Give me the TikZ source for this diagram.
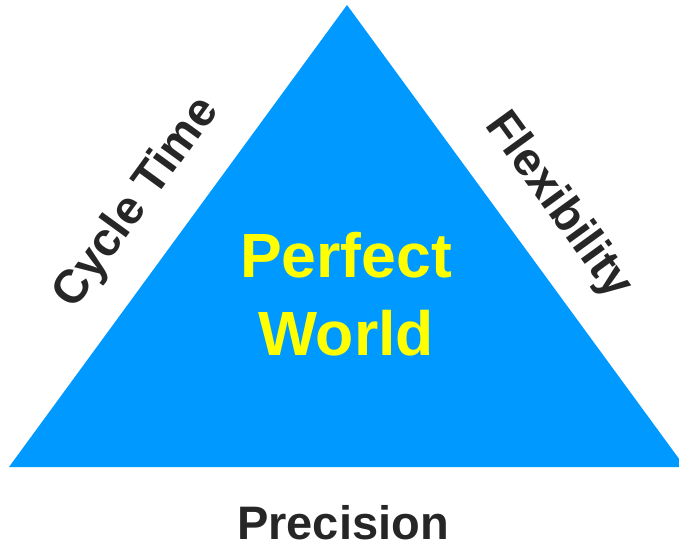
\documentclass[tikz,border=0pt]{standalone}
\usepackage{fontspec}
\setmainfont{Liberation Sans}
\definecolor{triblue}{HTML}{0099FF}
\definecolor{labgray}{HTML}{262626}
\definecolor{textyellow}{HTML}{FFFF00}
\begin{document}
\begin{tikzpicture}[x=1pt,y=-1pt,
  sidelabel/.style={text=labgray,font=\fontsize{47}{50}\selectfont\bfseries,inner sep=0pt},
  centerlabel/.style={text=textyellow,font=\fontsize{62.5}{78}\selectfont\bfseries,align=center,inner sep=0pt}]
\useasboundingbox (0,0) rectangle (679,547);
\begin{scope}
\clip (0,0) rectangle (679,547);
\coordinate (apex) at (347,5);
\coordinate (bl) at (9,467);
\coordinate (br) at (685,467);
\fill[triblue] (apex) -- (bl) -- (br) -- cycle;
\end{scope}
\node[centerlabel] (pw) at (346,294) {Perfect\\World};
\node[sidelabel,rotate=54] (ct) at (137,203) {Cycle Time};
\node[sidelabel,rotate=-54] (fx) at (558,206) {Flexibility};
\node[sidelabel] (pr) at (343,523) {Precision};
\end{tikzpicture}
\end{document}
